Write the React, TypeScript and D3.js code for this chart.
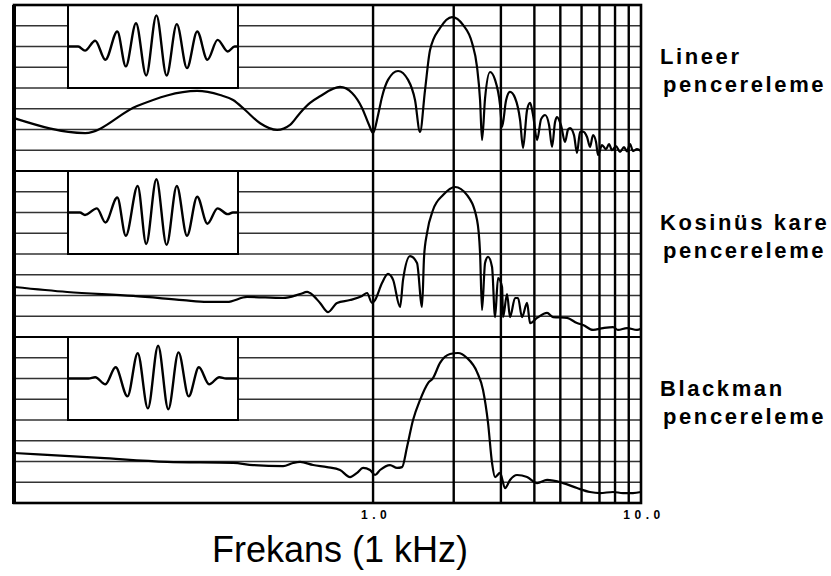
import React from 'react';
import * as d3 from 'd3';

const W = 831;
const H = 576;
const left = 14;
const right = 641;
const top = 5;
const bottom = 503;

// axis
const gridFreqs = [1, 2, 3, 4, 5, 6, 7, 8, 9];
const tickFreqs = [1, 10];
const tickLabels = ['1.0', '10.0'];
const dbLevels = [-10, -20, -30, -40, -50, -60, -70];

const panelTitles = ['Lineer', 'Kosinüs kare', 'Blackman'];
const panelSub = 'pencereleme';

// Lineer pencereleme spectrum (kHz, dB)
const linFreq = [0.0457, 0.0842, 0.1316, 0.2205, 0.2686, 0.3003, 0.333, 0.3789, 0.4384, 0.4901, 0.5341, 0.5818, 0.6341, 0.7529, 0.8349, 0.9097, 0.9662, 1.0, 1.044, 1.08, 1.137, 1.24, 1.351, 1.434, 1.497, 1.563, 1.632, 1.778, 1.971, 2.167, 2.342, 2.444, 2.508, 2.551, 2.618, 2.733, 2.853, 2.978, 3.03, 3.135, 3.245, 3.388, 3.537, 3.629, 3.756, 3.855, 3.955, 4.094, 4.237, 4.385, 4.538, 4.656, 4.778, 4.86, 5.03, 5.206, 5.342, 5.435, 5.623, 5.77, 5.922, 6.076, 6.289, 6.453, 6.622, 6.795, 6.913, 7.154, 7.404, 7.597, 7.796, 8.068, 8.35, 8.642, 8.868, 9.1, 9.335, 9.663, 10];
const linDb = [-54.5, -61.7, -48.7, -41.4, -43.4, -45.8, -50.6, -57, -60.2, -57.8, -52, -47.2, -44, -39.5, -42.4, -49.6, -57.8, -61.7, -53, -44.3, -36.1, -31.8, -36.1, -45.8, -61.2, -41, -21.7, -11.1, -5.8, -9.6, -18.3, -29.9, -45.8, -65.1, -45, -32.3, -36.1, -48.2, -58.8, -46, -41.9, -44.8, -55.4, -68.9, -50.6, -47.2, -53, -65.1, -55, -53, -57.8, -68.4, -56.4, -54, -58, -66, -60, -59.3, -62.7, -71.3, -61.2, -61, -63.6, -68.4, -62.7, -66, -72.3, -67.5, -69.5, -67, -70, -68, -70.8, -68.5, -70.5, -67, -70.4, -69.5, -70.4];

// Kosinüs kare pencereleme spectrum
const cosFreq = [0.0457, 0.0722, 0.1272, 0.1954, 0.2402, 0.2852, 0.3388, 0.4614, 0.5341, 0.5673, 0.5818, 0.6341, 0.6795, 0.7338, 0.8207, 0.9097, 0.9497, 0.9914, 1.017, 1.08, 1.137, 1.188, 1.261, 1.294, 1.374, 1.459, 1.523, 1.55, 1.59, 1.674, 1.825, 2.023, 2.243, 2.444, 2.508, 2.551, 2.618, 2.686, 2.78, 2.853, 2.927, 3.03, 3.056, 3.162, 3.245, 3.388, 3.476, 3.597, 3.756, 3.855, 4.094, 4.461, 4.696, 5.297, 5.77, 6.076, 6.622, 7.217, 7.863, 8.207, 8.868, 9.663, 10];
const cosDb = [-55.9, -58.3, -60.2, -62.2, -63.1, -63.1, -60.7, -61.2, -59.3, -58.3, -58.8, -63.6, -68, -63.6, -62.2, -60.2, -58.8, -63.6, -62.2, -54, -49.6, -52.5, -65.5, -52.5, -41, -44.3, -65.5, -41.4, -29.9, -18.8, -11.6, -7.7, -11.6, -23.6, -39.5, -67, -44.3, -41.4, -46.3, -70.4, -51.6, -55.9, -70.4, -59.3, -70.4, -61.2, -61.2, -70.4, -63.6, -73.3, -70.8, -68.4, -70.4, -70.8, -73.3, -74.2, -76.6, -75.7, -75.2, -76.6, -75.7, -76.6, -76];

// Blackman pencereleme spectrum
const blackFreq = [0.0457, 0.0958, 0.1703, 0.3003, 0.3566, 0.4614, 0.5029, 0.5341, 0.5974, 0.6736, 0.7529, 0.8207, 0.8715, 0.9177, 0.9745, 1.017, 1.062, 1.157, 1.229, 1.283, 1.339, 1.41, 1.497, 1.604, 1.674, 1.778, 1.938, 2.075, 2.243, 2.444, 2.573, 2.686, 2.78, 2.853, 2.978, 3.109, 3.245, 3.446, 3.756, 4.094, 4.461, 5.117, 5.77, 6.453, 7.031, 7.863, 8.566, 9.335, 10];
const blackDb = [-55.9, -58.3, -60.2, -60.7, -61.7, -62.2, -60.7, -60.2, -61.7, -62.7, -64.1, -67.5, -65.5, -63.1, -64.1, -66.5, -64.1, -61.7, -63.1, -62.7, -53, -40, -30.4, -22.2, -19.8, -12.5, -8.2, -7.7, -10.1, -16.9, -25.5, -41.4, -60.7, -67.5, -65.5, -72.8, -68.9, -66.5, -67.5, -70.4, -68.9, -70.4, -72.8, -74.7, -75.2, -74.7, -75.2, -75.2, -74.7];

// tone bursts in the insets (relative time, relative amplitude)
const linBurstT = [0, 0.06, 0.1, 0.16, 0.22, 0.29, 0.34, 0.4, 0.46, 0.52, 0.58, 0.64, 0.7, 0.76, 0.82, 0.88, 0.94, 0.98, 1];
const linBurstV = [0, 0, -0.1, 0.14, -0.32, 0.36, -0.48, 0.56, -0.7, 0.75, -0.7, 0.54, -0.52, 0.36, -0.32, 0.16, -0.12, 0, 0];
const cosBurstT = [0, 0.07, 0.1, 0.17, 0.22, 0.29, 0.34, 0.41, 0.46, 0.52, 0.58, 0.64, 0.7, 0.76, 0.82, 0.88, 0.94, 0.97, 1];
const cosBurstV = [0, 0, -0.06, 0.1, -0.24, 0.36, -0.56, 0.64, -0.76, 0.8, -0.78, 0.64, -0.56, 0.38, -0.27, 0.1, -0.04, 0, 0];
const blackBurstT = [0, 0.12, 0.16, 0.22, 0.28, 0.35, 0.41, 0.47, 0.53, 0.59, 0.65, 0.71, 0.77, 0.83, 0.89, 0.93, 1];
const blackBurstV = [0, 0, 0.03, -0.14, 0.27, -0.43, 0.61, -0.72, 0.79, -0.74, 0.63, -0.43, 0.27, -0.14, 0.03, 0, 0];

const spectra = [
  { f: linFreq, db: linDb, t: linBurstT, v: linBurstV },
  { f: cosFreq, db: cosDb, t: cosBurstT, v: cosBurstV },
  { f: blackFreq, db: blackDb, t: blackBurstT, v: blackBurstV },
];

const insetX0 = 68;
const insetX1 = 238;
const font = "'Liberation Sans', Arial, sans-serif";

export default function App() {
  const x = d3.scaleLog().domain([0.0457, 10]).range([left, right]);
  const panelH = (bottom - top) / 3;
  const panelY = (i: number) =>
    d3.scaleLinear().domain([-80, 0]).range([top + (i + 1) * panelH, top + i * panelH]);

  return (
    <svg width={W} height={H} style={{ position: 'absolute', left: 0, top: 0, background: '#fff' }}>
      <rect width={W} height={H} fill="#fff" />
      {spectra.map((s, i) => {
        const pTop = top + i * panelH;
        const y = panelY(i);
        const bx = d3.scaleLinear().domain([0, 1]).range([insetX0, insetX1]);
        const by = d3.scaleLinear().domain([-1, 1]).range([y(-40), y(0)]);
        const burst = d3.line<number>()
          .x((_, k) => bx(s.t[k]))
          .y(d => by(d))
          .curve(d3.curveMonotoneX);
        return (
          <g key={i}>
            {dbLevels.map(lv => (
              <line key={lv} x1={left} x2={right} y1={y(lv)} y2={y(lv)} stroke="#333" strokeWidth={1.7} />
            ))}
            <rect x={insetX0} y={y(0)} width={insetX1 - insetX0} height={y(-40) - y(0)}
              fill="#fff" stroke="#000" strokeWidth={2} />
            <path d={burst(s.v) || ''} fill="none" stroke="#000" strokeWidth={2.4} strokeLinejoin="round" />
            {i > 0 && <line x1={left} x2={right} y1={pTop} y2={pTop} stroke="#000" strokeWidth={2.2} />}
            <text x={right + 19} y={pTop + 59} fontFamily={font} fontWeight="bold" fontSize={22}
              letterSpacing={2.6} fill="#000">{panelTitles[i]}</text>
            <text x={right + 22} y={pTop + 87} fontFamily={font} fontWeight="bold" fontSize={22}
              letterSpacing={2.6} fill="#000">{panelSub}</text>
          </g>
        );
      })}
      {gridFreqs.map(f => (
        <line key={f} x1={x(f)} x2={x(f)} y1={top} y2={bottom} stroke="#000" strokeWidth={2.4} />
      ))}
      {spectra.map((s, i) => {
        const y = panelY(i);
        const line = d3.line<number>()
          .x((_, k) => x(s.f[k]))
          .y(d => y(d))
          .curve(d3.curveMonotoneX);
        return <path key={i} d={line(s.db) || ''} fill="none" stroke="#000" strokeWidth={2.2} strokeLinejoin="round" />;
      })}
      <rect x={left} y={top} width={right - left} height={bottom - top} fill="none" stroke="#000" strokeWidth={2.6} />
      <line x1={left} x2={left} y1={top} y2={bottom + 1} stroke="#000" strokeWidth={4} />
      {tickFreqs.map((f, i) => (
        <text key={f} x={x(f) + 3} y={519} textAnchor="middle" fontFamily={font} fontWeight="bold"
          fontSize={12} letterSpacing={4.5} fill="#000">{tickLabels[i]}</text>
      ))}
      <text x={212} y={562} fontFamily={font} fontSize={36} fill="#000">Frekans (1 kHz)</text>
    </svg>
  );
}
